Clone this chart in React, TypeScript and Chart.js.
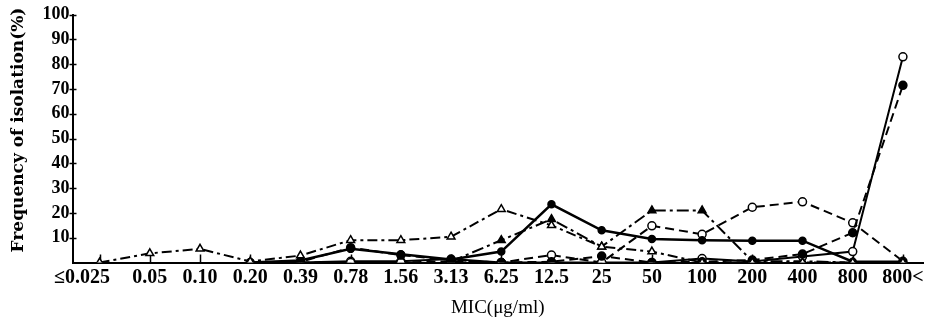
import React, { useEffect, useRef } from 'react';
import { Chart, registerables } from 'chart.js';

Chart.register(...registerables);

// MIC categories (x axis)
const categories = ['≤0.025       ', '0.05', '0.10', '0.20', '0.39', '0.78', '1.56', '3.13', '6.25', '12.5', '25', '50', '100', '200', '400', '800', '800<'];
const yTickValues = [10, 20, 30, 40, 50, 60, 70, 80, 90, 100];

// Frequency of isolation (%) per series
const openTriangleDashDot = [0, 3.7, 5.5, 0.4, 2.8, 9, 9, 10.4, 21.5, 15, 6.4, 4.4, 0, 0, 0, 0, 0];
const filledCircleSolid = [null, null, null, 0, 0.8, 5.5, 3.3, 1.2, 4.4, 23.5, 13, 9.5, 9, 8.8, 8.8, 0.3, 0.3];
const filledCircleDashed = [null, null, null, 0, 0.3, 6, 3, 1, 0, 0.3, 2.6, 0, 0.3, 1, 3.4, 12, 71.5];
const openCircleDashed = [null, null, null, null, 0, 0, 0, 0.5, 0, 3, 0, 14.8, 11.4, 22.3, 24.5, 16, 0.5];
const openCircleSolid = [null, null, null, null, 0, 0.5, 0.5, 1.4, 0, 0, 0, 0, 1.6, 0.4, 2.4, 4.4, 83];
const filledTriangleDashDot = [null, null, null, null, null, null, null, 0.4, 9, 17.5, 6.4, 21, 21, 0.5, 0.5, 0, 0];

const yTitle = 'Frequency of isolation(%)';
const xTitle = 'MIC(μg/ml)';

const toPoints = (arr: (number | null)[]) => arr.map((v, i) => ({ x: i, y: v }));

const axisDecor = {
  id: 'axisDecor',
  beforeDatasetsDraw(chart: any) {
    const { ctx, chartArea, scales } = chart;
    const x = scales.x;
    const y = scales.y;
    ctx.save();
    ctx.strokeStyle = '#000';
    ctx.lineWidth = 1.5;
    categories.forEach((_, i) => {
      const px = Math.round(x.getPixelForValue(i)) + 0.5;
      ctx.beginPath();
      ctx.moveTo(px, chartArea.bottom);
      ctx.lineTo(px, chartArea.bottom - 8);
      ctx.stroke();
    });
    yTickValues.forEach((v) => {
      const py = Math.round(y.getPixelForValue(v)) + 0.5;
      ctx.beginPath();
      ctx.moveTo(chartArea.left - 3, py);
      ctx.lineTo(chartArea.left + 4, py);
      ctx.stroke();
    });
    ctx.restore();
  },
  afterDraw(chart: any) {
    const { ctx } = chart;
    ctx.save();
    ctx.translate(19, 130);
    ctx.rotate(-Math.PI / 2);
    ctx.fillStyle = '#000';
    ctx.font = 'bold 17px "DejaVu Serif"';
    ctx.textAlign = 'center';
    ctx.textBaseline = 'middle';
    ctx.fillText(yTitle, 0, 0);
    ctx.restore();
  },
};

export default function App() {
  const ref = useRef<HTMLCanvasElement | null>(null);

  useEffect(() => {
    document.body.style.margin = '0';
    const canvas = ref.current;
    if (!canvas) return;

    const base = {
      borderColor: '#000',
      pointBorderColor: '#000',
      borderWidth: 2,
      pointBorderWidth: 1.5,
      tension: 0,
      spanGaps: false,
    };

    const chart = new Chart(canvas, {
      type: 'line',
      data: {
        datasets: [
          {
            ...base,
            label: 'A',
            data: toPoints(openTriangleDashDot),
            borderDash: [10, 4, 3, 4],
            pointStyle: 'triangle',
            pointRadius: 4.5,
            pointBackgroundColor: '#fff',
          },
          {
            ...base,
            label: 'B',
            data: toPoints(filledCircleSolid),
            borderWidth: 2.5,
            pointStyle: 'circle',
            pointRadius: 3.5,
            pointBackgroundColor: '#000',
          },
          {
            ...base,
            label: 'C',
            data: toPoints(filledCircleDashed),
            borderDash: [9, 5],
            pointStyle: 'circle',
            pointRadius: 4,
            pointBackgroundColor: '#000',
          },
          {
            ...base,
            label: 'D',
            data: toPoints(openCircleDashed),
            borderDash: [9, 5],
            pointStyle: 'circle',
            pointRadius: 4,
            pointBackgroundColor: '#fff',
          },
          {
            ...base,
            label: 'E',
            data: toPoints(openCircleSolid),
            pointStyle: 'circle',
            pointRadius: 4,
            pointBackgroundColor: '#fff',
          },
          {
            ...base,
            label: 'F',
            data: toPoints(filledTriangleDashDot),
            borderDash: [12, 4, 3, 4],
            pointStyle: 'triangle',
            pointRadius: 4.5,
            pointBackgroundColor: '#000',
          },
        ],
      },
      options: {
        animation: false,
        responsive: false,
        devicePixelRatio: 1,
        layout: { padding: { top: 14.7, right: 18, left: 0, bottom: 0 } },
        plugins: { legend: { display: false }, tooltip: { enabled: false } },
        scales: {
          x: {
            type: 'linear',
            min: -0.54,
            max: 16.4,
            afterFit: (s: any) => {
              s.height = 61.5;
            },
            afterBuildTicks: (s: any) => {
              s.ticks = categories.map((_, i) => ({ value: i }));
            },
            grid: { display: false, drawTicks: false },
            border: { display: true, color: '#000', width: 2 },
            ticks: {
              autoSkip: false,
              maxRotation: 0,
              padding: 3,
              color: '#000',
              font: { family: '"Liberation Serif", "DejaVu Serif", serif', size: 20, weight: 'bold' },
              callback: (v: any) => (Number.isInteger(v) ? categories[v] : ''),
            },
            title: {
              display: true,
              text: xTitle,
              color: '#000',
              font: { family: '"Liberation Serif", serif', size: 19 },
              padding: { top: 0, bottom: 5 },
            },
          },
          y: {
            min: 0,
            max: 100,
            afterFit: (s: any) => {
              s.width = 72.5;
            },
            afterBuildTicks: (s: any) => {
              s.ticks = [0, ...yTickValues].map((v) => ({ value: v }));
            },
            grid: { display: false, drawTicks: false },
            border: { display: true, color: '#000', width: 2 },
            ticks: {
              padding: 3,
              color: '#000',
              font: { family: '"Liberation Serif", serif', size: 18, weight: 'bold' },
              callback: (v: any) => (v === 0 ? '' : String(v)),
            },
          },
        },
      },
      plugins: [axisDecor],
    } as any);

    return () => chart.destroy();
  }, []);

  return <canvas ref={ref} width={941} height={324} style={{ display: 'block' }} />;
}
